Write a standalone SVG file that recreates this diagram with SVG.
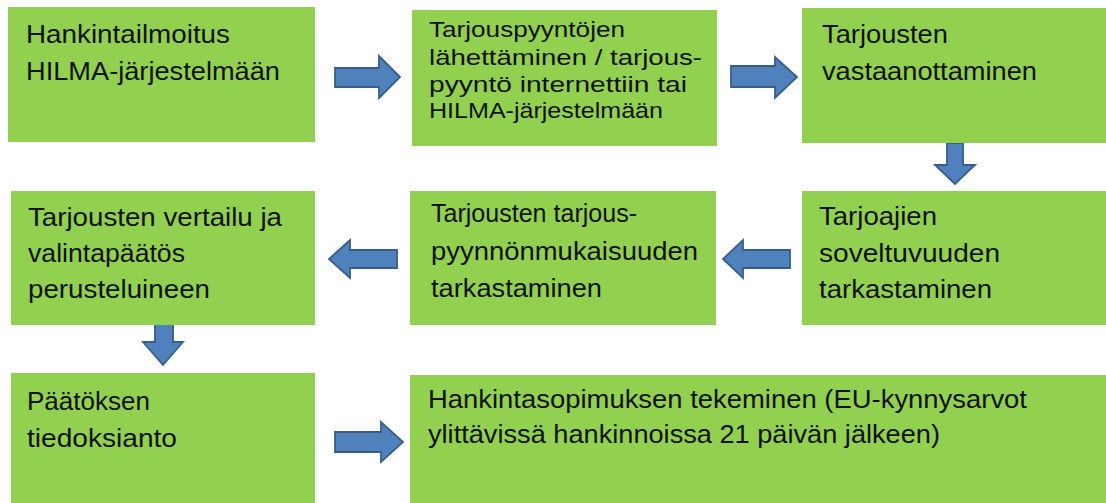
<svg xmlns="http://www.w3.org/2000/svg" width="1106" height="503" viewBox="0 0 1106 503">
<style>
.box{fill:#92D050;}
.arr{fill:#4F81BD;stroke:#385D8A;stroke-width:1.8;stroke-linejoin:miter;}
text{font-family:"Liberation Sans",Arial,sans-serif;fill:#111;font-size:25px;}
.sm{font-size:22px;}
</style>
<rect width="1106" height="503" fill="#ffffff"/>
<g id="connectors">
<path class="arr" d="M335,68 H379 V56 L400,77 L379,98 V87 H335 Z"/>
<path class="arr" d="M731,66 H775 V57 L797,77 L775,98 V87 H731 Z"/>
<path class="arr" d="M947,143 V165 H935 L955,184 L975,165 H963 V143 Z"/>
<path class="arr" d="M397,250 H350 V240 L329,259 L350,278 V268 H397 Z"/>
<path class="arr" d="M790,250 H743 V240 L723,259 L743,278 V268 H790 Z"/>
<path class="arr" d="M155,324 V342 H143 L163,365 L183,342 H173 V324 Z"/>
<path class="arr" d="M335,432 H381 V422 L403,442 L381,462 V452 H335 Z"/>
</g>
<g id="n1">
<rect class="box" x="8" y="7" width="307" height="135"/>
<text x="26" y="43" textLength="204" lengthAdjust="spacingAndGlyphs">Hankintailmoitus</text>
<text x="26" y="80" textLength="254" lengthAdjust="spacingAndGlyphs">HILMA-järjestelmään</text>
</g>
<g id="n2">
<rect class="box" x="412" y="10" width="305" height="136"/>
<text class="sm" x="429" y="37" textLength="196" lengthAdjust="spacingAndGlyphs">Tarjouspyyntöjen</text>
<text class="sm" x="429" y="65" textLength="273" lengthAdjust="spacingAndGlyphs">lähettäminen / tarjous-</text>
<text class="sm" x="429" y="92" textLength="258" lengthAdjust="spacingAndGlyphs">pyyntö internettiin tai</text>
<text class="sm" x="429" y="118" textLength="234" lengthAdjust="spacingAndGlyphs">HILMA-järjestelmään</text>
</g>
<g id="n3">
<rect class="box" x="802" y="8" width="304" height="135"/>
<text x="822" y="43" textLength="126" lengthAdjust="spacingAndGlyphs">Tarjousten</text>
<text x="822" y="80" textLength="215" lengthAdjust="spacingAndGlyphs">vastaanottaminen</text>
</g>
<g id="n4">
<rect class="box" x="802" y="191" width="304" height="134"/>
<text x="819" y="225" textLength="118" lengthAdjust="spacingAndGlyphs">Tarjoajien</text>
<text x="819" y="262" textLength="181" lengthAdjust="spacingAndGlyphs">soveltuvuuden</text>
<text x="819" y="298" textLength="173" lengthAdjust="spacingAndGlyphs">tarkastaminen</text>
</g>
<g id="n5">
<rect class="box" x="410" y="191" width="306" height="134"/>
<text x="431" y="222" textLength="206" lengthAdjust="spacingAndGlyphs">Tarjousten tarjous-</text>
<text x="431" y="260" textLength="267" lengthAdjust="spacingAndGlyphs">pyynnönmukaisuuden</text>
<text x="431" y="297" textLength="171" lengthAdjust="spacingAndGlyphs">tarkastaminen</text>
</g>
<g id="n6">
<rect class="box" x="11" y="191" width="304" height="134"/>
<text x="28" y="226" textLength="254" lengthAdjust="spacingAndGlyphs">Tarjousten vertailu ja</text>
<text x="28" y="262" textLength="157" lengthAdjust="spacingAndGlyphs">valintapäätös</text>
<text x="28" y="298" textLength="182" lengthAdjust="spacingAndGlyphs">perusteluineen</text>
</g>
<g id="n7">
<rect class="box" x="11" y="373" width="304" height="130"/>
<text x="27" y="410" textLength="123" lengthAdjust="spacingAndGlyphs">Päätöksen</text>
<text x="27" y="447" textLength="150" lengthAdjust="spacingAndGlyphs">tiedoksianto</text>
</g>
<g id="n8">
<rect class="box" x="410" y="375" width="696" height="128"/>
<text x="428" y="408" textLength="599" lengthAdjust="spacingAndGlyphs">Hankintasopimuksen tekeminen (EU-kynnysarvot</text>
<text x="428" y="443" textLength="512" lengthAdjust="spacingAndGlyphs">ylittävissä hankinnoissa 21 päivän jälkeen)</text>
</g>
</svg>
